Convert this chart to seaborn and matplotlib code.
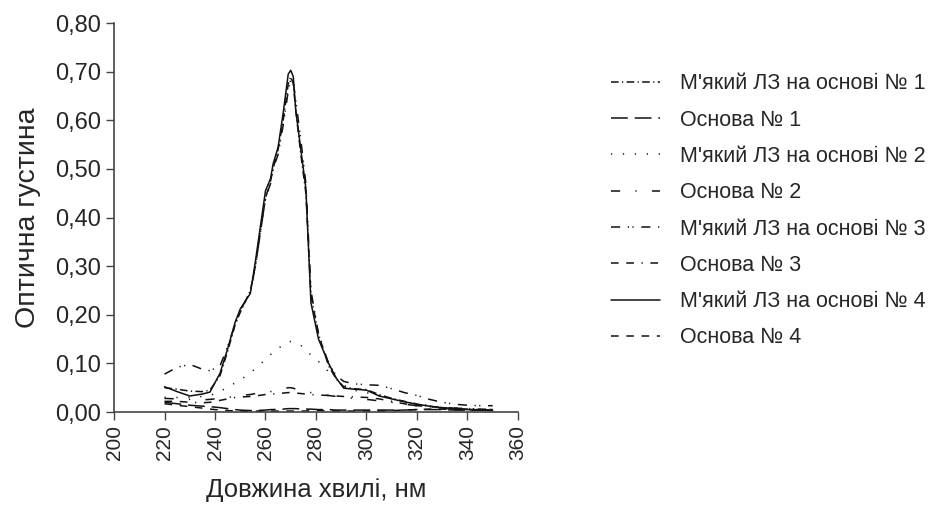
import pandas as pd
import seaborn as sns
import matplotlib.pyplot as plt
from matplotlib.ticker import FuncFormatter, MultipleLocator

sns.set_style("ticks")
plt.rcParams["font.family"] = ["Liberation Sans", "DejaVu Sans"]

# wavelengths, nm
wl = [220, 225, 230, 235, 238, 242, 245, 248, 250, 254, 256, 260, 262, 263, 265,
      267, 269, 270, 271, 272, 274, 276, 278, 281, 285, 288, 291, 295, 300, 305,
      310, 315, 320, 325, 330, 335, 340, 345, 350]

mlz1 = [0.050, 0.047, 0.043, 0.042, 0.045, 0.075, 0.125, 0.180, 0.205, 0.250, 0.300,
        0.440, 0.475, 0.500, 0.540, 0.600, 0.675, 0.690, 0.675, 0.620, 0.530, 0.450,
        0.240, 0.160, 0.095, 0.068, 0.052, 0.048, 0.046, 0.036, 0.028, 0.022, 0.016,
        0.012, 0.009, 0.007, 0.006, 0.005, 0.004]
osn1 = [0.020, 0.017, 0.014, 0.012, 0.011, 0.009, 0.007, 0.005, 0.004, 0.003, 0.003,
        0.004, 0.005, 0.005, 0.006, 0.006, 0.007, 0.007, 0.007, 0.007, 0.006, 0.006,
        0.006, 0.005, 0.005, 0.004, 0.004, 0.004, 0.004, 0.004, 0.004, 0.004, 0.005,
        0.005, 0.005, 0.004, 0.004, 0.004, 0.004]
mlz2 = [0.030, 0.030, 0.030, 0.032, 0.034, 0.042, 0.051, 0.060, 0.066, 0.080, 0.090,
        0.108, 0.118, 0.125, 0.131, 0.138, 0.145, 0.145, 0.144, 0.142, 0.137, 0.128,
        0.117, 0.104, 0.083, 0.070, 0.055, 0.045, 0.040, 0.034, 0.028, 0.022, 0.017,
        0.013, 0.010, 0.008, 0.007, 0.006, 0.005]
osn2 = [0.028, 0.027, 0.026, 0.025, 0.026, 0.028, 0.030, 0.032, 0.034, 0.036, 0.038,
        0.040, 0.042, 0.043, 0.045, 0.048, 0.050, 0.050, 0.049, 0.047, 0.044, 0.042,
        0.040, 0.037, 0.034, 0.032, 0.030, 0.028, 0.026, 0.023, 0.020, 0.016, 0.013,
        0.011, 0.009, 0.008, 0.007, 0.006, 0.005]
mlz3 = [0.078, 0.092, 0.098, 0.088, 0.085, 0.095, 0.135, 0.180, 0.210, 0.245, 0.300,
        0.440, 0.470, 0.500, 0.530, 0.590, 0.660, 0.685, 0.680, 0.640, 0.560, 0.470,
        0.250, 0.160, 0.100, 0.075, 0.063, 0.058, 0.056, 0.055, 0.048, 0.040, 0.034,
        0.026, 0.020, 0.016, 0.014, 0.013, 0.013]
osn3 = [0.022, 0.022, 0.020, 0.019, 0.020, 0.024, 0.027, 0.030, 0.031, 0.032, 0.033,
        0.036, 0.037, 0.037, 0.038, 0.039, 0.040, 0.040, 0.040, 0.039, 0.038, 0.037,
        0.036, 0.035, 0.034, 0.033, 0.032, 0.031, 0.030, 0.027, 0.022, 0.017, 0.013,
        0.011, 0.009, 0.008, 0.007, 0.006, 0.005]
mlz4 = [0.052, 0.042, 0.033, 0.037, 0.041, 0.080, 0.130, 0.185, 0.212, 0.244, 0.310,
        0.455, 0.480, 0.510, 0.545, 0.615, 0.695, 0.703, 0.690, 0.620, 0.540, 0.460,
        0.225, 0.150, 0.100, 0.070, 0.049, 0.047, 0.045, 0.033, 0.027, 0.021, 0.016,
        0.012, 0.008, 0.006, 0.005, 0.004, 0.003]
osn4 = [0.017, 0.014, 0.011, 0.008, 0.006, 0.004, 0.003, 0.002, 0.002, 0.001, 0.002,
        0.002, 0.002, 0.002, 0.002, 0.002, 0.002, 0.002, 0.002, 0.002, 0.002, 0.002,
        0.003, 0.003, 0.003, 0.002, 0.002, 0.002, 0.002, 0.002, 0.003, 0.004, 0.005,
        0.006, 0.006, 0.005, 0.005, 0.004, 0.004]

labels = ["М'який ЛЗ на основі № 1", "Основа № 1",
          "М'який ЛЗ на основі № 2", "Основа № 2",
          "М'який ЛЗ на основі № 3", "Основа № 3",
          "М'який ЛЗ на основі № 4", "Основа № 4"]
series = [mlz1, osn1, mlz2, osn2, mlz3, osn3, mlz4, osn4]
styles = [(0, (5, 2.2, 0.8, 2.2)),
          (0, (11, 4.5)),
          (0, (0.8, 7)),
          (0, (6, 10, 0.8, 10)),
          (0, (6, 5, 0.8, 2.2, 0.8, 5)),
          (0, (5, 5, 5, 5, 0.8, 5)),
          "-",
          (0, (5, 5))]

fig = plt.figure(figsize=(9.4, 5.14), dpi=100)
ax = fig.add_axes([0.1213, 0.1984, 0.4297, 0.7566])

for name, vals, ls in zip(labels, series, styles):
    df = pd.DataFrame({"wl": wl, "od": vals})
    sns.lineplot(data=df, x="wl", y="od", color="#111111", lw=1.1,
                 linestyle=ls, label=name, ax=ax)

ax.set_xlim(200, 360)
ax.set_ylim(0, 0.8)
ax.xaxis.set_major_locator(MultipleLocator(20))
ax.yaxis.set_major_locator(MultipleLocator(0.1))
ax.yaxis.set_major_formatter(FuncFormatter(lambda v, p: f"{v:.2f}".replace(".", ",")))
ax.tick_params(axis="both", direction="out", length=6, width=1, color="#444444")
ax.tick_params(axis="x", labelrotation=90, labelsize=15)
ax.tick_params(axis="y", labelsize=17)
for s in ["left", "bottom"]:
    ax.spines[s].set_color("#444444")
    ax.spines[s].set_linewidth(1.2)
sns.despine(ax=ax)

ax.set_xlabel("Довжина хвилі, нм", fontsize=18.5, labelpad=13)
ax.set_ylabel("Оптична густина", fontsize=20.5, labelpad=10)

ax.get_legend().remove()
h, l = ax.get_legend_handles_labels()
fig.legend(h, l, loc="upper left", bbox_to_anchor=(0.641, 0.874), frameon=False,
           fontsize=15.5, handlelength=2.28, handletextpad=0.93, labelspacing=0.71,
           borderaxespad=0)

fig.savefig("out.png", dpi=100)
